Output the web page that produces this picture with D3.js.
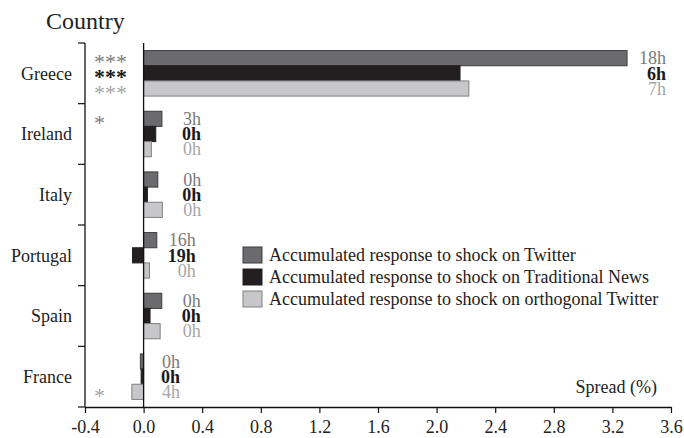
<!DOCTYPE html>
<html>
<head>
<meta charset="utf-8">
<script src="https://cdn.jsdelivr.net/npm/d3@7"></script>
<style>
  body { margin: 0; background: #fff; }
</style>
</head>
<body>
<div id="viz-container" style="width:684px;height:438px;"></div>
<script>
const countries = ["Greece", "Ireland", "Italy", "Portugal", "Spain", "France"];
const series = ["twitter", "news", "orthogonal"];
const seriesNames = [
  "Accumulated response to shock on Twitter",
  "Accumulated response to shock on Traditional News",
  "Accumulated response to shock on orthogonal Twitter",
];

// spread values, one array per series, in country order
const twitterValues = [3.3, 0.125, 0.097, 0.09, 0.124, -0.022];
const newsValues = [2.16, 0.083, 0.026, -0.076, 0.044, -0.017];
const orthogonalValues = [2.22, 0.053, 0.128, 0.04, 0.113, -0.08];

// half-life labels
const twitterLabels = ["18h", "3h", "0h", "16h", "0h", "0h"];
const newsLabels = ["6h", "0h", "0h", "19h", "0h", "0h"];
const orthogonalLabels = ["7h", "0h", "0h", "0h", "0h", "4h"];

// significance stars
const twitterStars = ["***", "*", "", "", "", ""];
const newsStars = ["***", "", "", "", "", ""];
const orthogonalStars = ["***", "", "", "", "", "*"];

const xTicks = [-0.4, 0.0, 0.4, 0.8, 1.2, 1.6, 2.0, 2.4, 2.8, 3.2, 3.6];

const fills = { twitter: "#6b6b6d", news: "#231f20", orthogonal: "#c7c7c9" };
const strokes = { twitter: "#3c3c3e", news: "#231f20", orthogonal: "#808082" };
const textColors = { twitter: "#7a7a7a", news: "#1a1a1a", orthogonal: "#a6a6a6" };

const values = { twitter: twitterValues, news: newsValues, orthogonal: orthogonalValues };
const labels = { twitter: twitterLabels, news: newsLabels, orthogonal: orthogonalLabels };
const stars = { twitter: twitterStars, news: newsStars, orthogonal: orthogonalStars };

const FONT = '"Liberation Serif"';
const width = 684;
const height = 438;

const svg = d3
  .select("#viz-container")
  .append("svg")
  .attr("width", width)
  .attr("height", height)
  .style("font-family", FONT);

const x = d3.scaleLinear().domain([-0.4, 3.6]).range([85, 671]);
const y = d3.scaleBand().domain(countries).range([43, 407]);
const ySub = d3
  .scaleBand()
  .domain(series)
  .range([0, y.bandwidth()])
  .paddingOuter(0.5);

// rows: one per country x series
const rows = [];
countries.forEach((c, i) => {
  series.forEach((s) => {
    rows.push({
      country: c,
      series: s,
      value: values[s][i],
      label: labels[s][i],
      star: stars[s][i],
      groupMax: d3.max(series, (k) => values[k][i]),
    });
  });
});

// bars
svg
  .selectAll(".bar")
  .data(rows)
  .enter()
  .append("rect")
  .attr("class", "bar")
  .attr("x", (d) => x(Math.min(0, d.value)))
  .attr("y", (d) => y(d.country) + ySub(d.series))
  .attr("width", (d) => Math.abs(x(d.value) - x(0)))
  .attr("height", ySub.bandwidth())
  .attr("fill", (d) => fills[d.series])
  .attr("stroke", (d) => strokes[d.series])
  .attr("stroke-width", 1);

// zero line
svg
  .append("line")
  .attr("x1", x(0))
  .attr("x2", x(0))
  .attr("y1", 43)
  .attr("y2", 407)
  .attr("stroke", "#111")
  .attr("stroke-width", 1.3);

// value labels
svg
  .selectAll(".vlabel")
  .data(rows)
  .enter()
  .append("text")
  .attr("class", "vlabel")
  .attr("x", (d) => x(d.groupMax) + 39)
  .attr("y", (d) => y(d.country) + ySub(d.series) + ySub.bandwidth() / 2)
  .attr("dy", "0.35em")
  .attr("text-anchor", "end")
  .style("font-family", FONT)
  .attr("font-size", 18)
  .attr("font-weight", (d) => (d.series === "news" ? "bold" : "normal"))
  .attr("fill", (d) => textColors[d.series])
  .text((d) => d.label);

// stars
svg
  .selectAll(".star")
  .data(rows.filter((d) => d.star))
  .enter()
  .append("text")
  .attr("class", "star")
  .attr("x", 94)
  .attr("y", (d) => y(d.country) + ySub(d.series) + ySub.bandwidth() / 2)
  .attr("dy", "0.5em")
  .style("font-family", FONT)
  .attr("font-size", 22)
  .attr("font-weight", (d) => (d.series === "news" ? "bold" : "normal"))
  .attr("fill", (d) => textColors[d.series])
  .text((d) => d.star);

// x axis
const xAxis = svg
  .append("g")
  .attr("transform", "translate(0,407)")
  .call(d3.axisBottom(x).tickValues(xTicks).tickFormat(d3.format(".1f")).tickSize(6).tickSizeOuter(0));
xAxis.select(".domain").attr("stroke", "#111").attr("stroke-width", 1.3);
xAxis.selectAll(".tick line").attr("stroke", "#111").attr("stroke-width", 1.2);
xAxis
  .selectAll(".tick text")
  .style("font-family", FONT)
  .attr("font-size", 18)
  .attr("fill", "#222")
  .attr("dy", "0.95em");
xAxis
  .select(".tick text")
  .text("-0.4");

// y axis
const yAxis = svg.append("g");
yAxis
  .append("line")
  .attr("x1", 85)
  .attr("x2", 85)
  .attr("y1", 43)
  .attr("y2", 407)
  .attr("stroke", "#111")
  .attr("stroke-width", 1.3);
yAxis
  .selectAll(".ytick")
  .data(countries.map((c) => y(c)).concat([407]))
  .enter()
  .append("line")
  .attr("class", "ytick")
  .attr("x1", 78)
  .attr("x2", 85)
  .attr("y1", (d) => d)
  .attr("y2", (d) => d)
  .attr("stroke", "#111")
  .attr("stroke-width", 1.2);
yAxis
  .selectAll(".ylabel")
  .data(countries)
  .enter()
  .append("text")
  .attr("class", "ylabel")
  .attr("x", 72)
  .attr("y", (d) => y(d) + y.bandwidth() / 2)
  .attr("dy", "0.35em")
  .attr("text-anchor", "end")
  .style("font-family", FONT)
  .attr("font-size", 18)
  .attr("fill", "#222")
  .text((d) => d);

svg
  .append("text")
  .attr("x", 46)
  .attr("y", 29)
  .style("font-family", FONT)
  .attr("font-size", 24)
  .attr("fill", "#222")
  .text("Country");

svg
  .append("text")
  .attr("x", 657)
  .attr("y", 393)
  .attr("text-anchor", "end")
  .style("font-family", FONT)
  .attr("font-size", 18)
  .attr("fill", "#222")
  .text("Spread (%)");

// legend
const legend = svg
  .selectAll(".legend")
  .data(series)
  .enter()
  .append("g")
  .attr("class", "legend")
  .attr("transform", (d, i) => `translate(243,${247 + i * 22})`);
legend
  .append("rect")
  .attr("width", 19)
  .attr("height", 16)
  .attr("fill", (d) => fills[d])
  .attr("stroke", (d) => strokes[d]);
legend
  .append("text")
  .attr("x", 26)
  .attr("y", 8)
  .attr("dy", "0.35em")
  .style("font-family", FONT)
  .attr("font-size", 18)
  .attr("fill", "#222")
  .text((d, i) => seriesNames[i]);
</script>
</body>
</html>
